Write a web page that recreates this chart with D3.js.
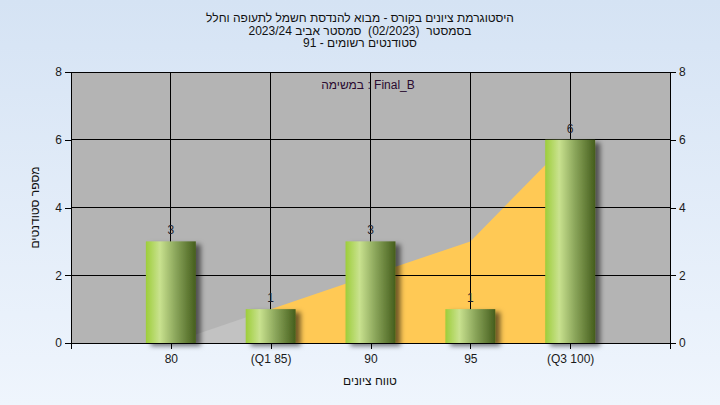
<!DOCTYPE html>
<html><head><meta charset="utf-8">
<script src="https://cdn.jsdelivr.net/npm/d3@7"></script>
<style>html,body{margin:0;padding:0;background:#e4edf8;}svg{display:block;font-family:"Liberation Sans",Arial,sans-serif;}text{white-space:pre;}</style>
</head><body><div id="chart"></div>
<script>
const categories = [80, 85, 90, 95, 100];
const tickLabels = ["80", "(Q1 85)", "90", "95", "(Q3 100)"];
const counts = [3, 1, 3, 1, 6];
const areaValues = [0, 1, 2, 3, 6];
const q1 = 85, q3 = 100;
const yTicks = [0, 2, 4, 6, 8];
const titleLines = ["היסטוגרמת ציונים בקורס - מבוא להנדסת חשמל לתעופה וחלל",
                    "בסמסטר  (02/2023)  סמסטר אביב 2023/24",
                    "סטודנטים רשומים - 91"];
const legendText = "Final_B : במשימה";
const xTitle = "טווח ציונים";
const yTitle = "מספר סטודנטים";

const W = 720, H = 405;
const m = {l: 71, r: 670, t: 72, b: 343};
const svg = d3.select("#chart").append("svg").attr("width", W).attr("height", H);
const defs = svg.append("defs");
const bg = defs.append("linearGradient").attr("id","bg").attr("x1",0).attr("y1",0).attr("x2",0).attr("y2",1);
bg.append("stop").attr("offset","0%").attr("stop-color","#d5e3f4");
bg.append("stop").attr("offset","100%").attr("stop-color","#eff5fd");
const bar = defs.append("linearGradient").attr("id","bar").attr("x1",0).attr("y1",0).attr("x2",1).attr("y2",0);
[["0%","#9dcd3a"],["28%","#c9e28f"],["60%","#8aa55a"],["100%","#455e1c"]].forEach(s=>bar.append("stop").attr("offset",s[0]).attr("stop-color",s[1]));
const sh = defs.append("filter").attr("id","sh").attr("x","-20%").attr("y","-20%").attr("width","150%").attr("height","150%");
sh.append("feDropShadow").attr("dx",5).attr("dy",3).attr("stdDeviation",2.5).attr("flood-color","#000").attr("flood-opacity",0.55);

svg.append("rect").attr("width",W).attr("height",H).attr("fill","url(#bg)");

const x = d3.scaleLinear().domain([75, 105]).range([m.l, m.r]);
const y = d3.scaleLinear().domain([0, 8]).range([m.b, m.t]);

svg.append("rect").attr("x",m.l).attr("y",m.t).attr("width",m.r-m.l).attr("height",m.b-m.t).attr("fill","#b4b4b4");

// area
const pts = categories.map((c,i)=>({c, v: areaValues[i]}));
const area = d3.area().x(d=>x(d.c)).y0(y(0)).y1(d=>y(d.v));
svg.append("path").datum(pts.filter(d=>d.c<=q1)).attr("d",area).attr("fill","#c2c2c2");
svg.append("path").datum(pts.filter(d=>d.c>=q1 && d.c<=q3)).attr("d",area).attr("fill","#ffc955");

// grid
const g = svg.append("g").attr("stroke","#000").attr("stroke-width",1).attr("shape-rendering","crispEdges");
yTicks.slice(1).forEach(t=>g.append("line").attr("x1",m.l).attr("x2",m.r).attr("y1",y(t)).attr("y2",y(t)));
categories.forEach(c=>g.append("line").attr("x1",x(c)).attr("x2",x(c)).attr("y1",m.t).attr("y2",m.b));

// bars
const bw = 2.5;
svg.append("g").selectAll("rect").data(categories).join("rect")
  .attr("x",c=>x(c-bw/2)).attr("width",c=>x(c+bw/2)-x(c-bw/2))
  .attr("y",(c,i)=>y(counts[i])).attr("height",(c,i)=>y(0)-y(counts[i]))
  .attr("fill","url(#bar)").attr("filter","url(#sh)");

svg.append("g").selectAll("text").data(categories).join("text")
  .attr("x",c=>x(c)).attr("y",(c,i)=>y(counts[i])-7)
  .attr("text-anchor","middle").attr("font-size",12).attr("fill","#1e1e2a")
  .text((c,i)=>counts[i]);

// axes
const xAxis = d3.axisBottom(x).tickValues([75].concat(categories, [105])).tickSize(6).tickPadding(5)
  .tickFormat(v=>{const i=categories.indexOf(v); return i<0?"":tickLabels[i];});
const ax = svg.append("g").attr("transform",`translate(0,${m.b})`).call(xAxis);
const ayl = svg.append("g").attr("transform",`translate(${m.l},0)`).call(d3.axisLeft(y).tickValues(yTicks).tickSize(6).tickPadding(3));
const ayr = svg.append("g").attr("transform",`translate(${m.r},0)`).call(d3.axisRight(y).tickValues(yTicks).tickSize(6).tickPadding(3));
[ax,ayl,ayr].forEach(a=>{
  a.selectAll("path,line").attr("stroke","#000").attr("shape-rendering","crispEdges");
  a.selectAll("text").attr("font-size",12).attr("fill","#1a1a1a").attr("font-family","Liberation Sans, Arial, sans-serif");
});
ax.select(".domain").remove();
ayl.select(".domain").remove();
ayr.select(".domain").remove();
svg.append("line").attr("x1",m.l).attr("x2",m.r).attr("y1",m.b).attr("y2",m.b).attr("stroke","#000").attr("shape-rendering","crispEdges");
svg.append("line").attr("x1",m.l).attr("x2",m.l).attr("y1",m.t).attr("y2",m.b+6).attr("stroke","#000").attr("shape-rendering","crispEdges");
svg.append("line").attr("x1",m.r).attr("x2",m.r).attr("y1",m.t).attr("y2",m.b+6).attr("stroke","#000").attr("shape-rendering","crispEdges");

// titles
titleLines.forEach((t,i)=>svg.append("text").attr("x",360).attr("y",22+i*12.5)
  .attr("text-anchor","middle").attr("direction","rtl").attr("font-size",12).attr("fill","#111").text(t));
svg.append("text").attr("x",368).attr("y",89).attr("text-anchor","middle").attr("direction","rtl")
  .attr("font-size",12).attr("fill","#2a0a30").text(legendText);
svg.append("text").attr("x",370).attr("y",385).attr("text-anchor","middle").attr("direction","rtl")
  .attr("font-size",12).attr("fill","#111").text(xTitle);
svg.append("text").attr("transform",`translate(39,${(m.t+m.b)/2}) rotate(-90)`).attr("text-anchor","middle").attr("direction","rtl")
  .attr("font-size",12).attr("fill","#111").text(yTitle);
</script></body></html>
